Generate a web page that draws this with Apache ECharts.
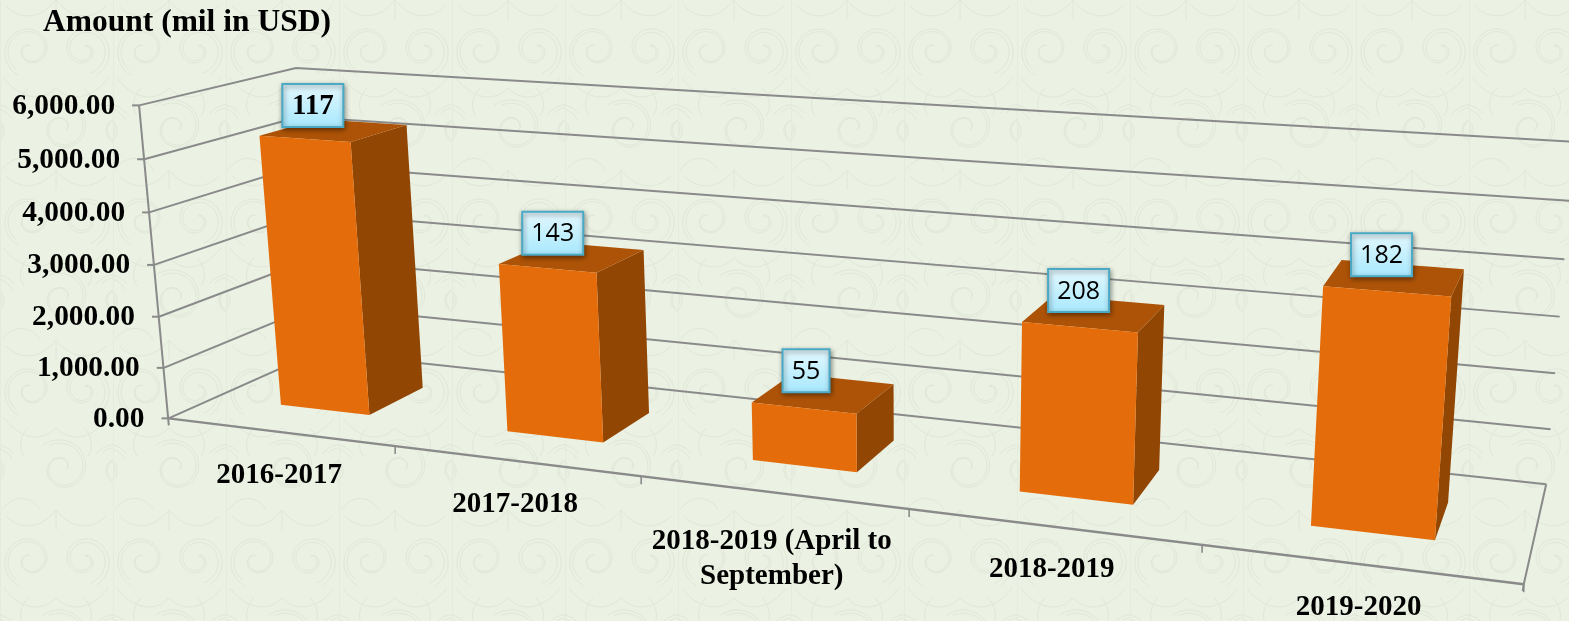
<!DOCTYPE html>
<html><head><meta charset="utf-8">
<style>html,body{margin:0;padding:0;background:#ebf1e3}#c{width:1569px;height:621px}</style>
<script src="https://cdn.jsdelivr.net/npm/echarts@6/dist/echarts.min.js"></script>
</head><body><div id="c"></div>
<script>
const categories=['2016-2017','2017-2018','2018-2019 (April to\nSeptember)','2018-2019','2019-2020'];
const amounts=[5280,3205,1080,3010,4050];
const barLabels=['117','143','55','208','182'];
const yTicks=[0,1000,2000,3000,4000,5000,6000];
const yTickLabels=['0.00','1,000.00','2,000.00','3,000.00','4,000.00','5,000.00','6,000.00'];
const titleText='Amount (mil in USD)';

const GRID={left:100,top:100,width:1000,height:300};
const BAR_Z=[0.30,0.69], BAR_W=0.40;
// Perspective calibration of the plot box: [slotFraction, heightFraction, depth, screenX, screenY]
const CAL=[[0,0,0,167,418],[1,0,0,1524,583],[0,1,0,141,105],[0,0,1,319,352],[1,0,1,1546,484],[0,1,1,294,68],[1,1,1,1574,142],
 [.2,0,0,395,446],[.4,0,0,641,477],[.6,0,0,909,510],[.8,0,0,1202,545]];
function solve(){
  const A=[],B=[];
  CAL.forEach(([X,Y,Z,u,v])=>{
    u/=1000;v/=1000;
    A.push([X,Y,Z,1,0,0,0,0,-u*X,-u*Y,-u*Z]);B.push(u);
    A.push([0,0,0,0,X,Y,Z,1,-v*X,-v*Y,-v*Z]);B.push(v);
  });
  const n=11,M=[];
  for(let i=0;i<n;i++){M.push([]);for(let j=0;j<=n;j++){let s=0;for(let r=0;r<A.length;r++)s+=A[r][i]*(j<n?A[r][j]:B[r]);M[i].push(s);}}
  for(let i=0;i<n;i++){let p=i;for(let r=i+1;r<n;r++)if(Math.abs(M[r][i])>Math.abs(M[p][i]))p=r;[M[i],M[p]]=[M[p],M[i]];
    for(let r=0;r<n;r++)if(r!==i){const f=M[r][i]/M[i][i];for(let c=i;c<=n;c++)M[r][c]-=f*M[i][c];}}
  return M.map((row,i)=>row[n]/row[i]);
}
const H=solve();
function project(X,Y,Z){const w=H[8]*X+H[9]*Y+H[10]*Z+1;
  return [1000*(H[0]*X+H[1]*Y+H[2]*Z+H[3])/w,1000*(H[4]*X+H[5]*Y+H[6]*Z+H[7])/w];}
function mapper(api){
  const band=api.size([1,0])[0];
  return (slot,val,z)=>{const c=api.coord([0,val]);const px=c[0]-band/2+slot*band;
    return project((px-GRID.left)/GRID.width,(GRID.top+GRID.height-c[1])/GRID.height,z);};
}
const N=categories.length,LINE='#8a8a8a';
const line=(pts,w,color)=>({type:'polyline',shape:{points:pts},style:{stroke:color||LINE,lineWidth:w||2,fill:null}});

function renderGrid(params,api){
  const P=mapper(api),v=api.value(1);
  return {type:'group',children:[
    line([P(0,v,0),P(0,v,1),P(N,v,1)]),
    line([P(0,v,0),[P(0,v,0)[0]-7,P(0,v,0)[1]]])
  ]};
}
function renderFrame(params,api){
  const P=mapper(api);const top=yTicks[yTicks.length-1];
  const a=P(0,0,0),b=P(N,0,0);
  return {type:'group',children:[
    line([P(0,top,0),[a[0]+0.3,a[1]+7]]),
    line([a,b],2.4),
    line([P(N,0,1),b,[b[0]-1,b[1]+7]])
  ]};
}
function renderXTick(params,api){
  const P=mapper(api),i=api.value(0)+1,p=P(i,0,0);
  return line([p,[p[0],p[1]+8]],1.6);
}
function renderBar(params,api){
  const P=mapper(api),i=api.value(0),v=api.value(1);
  const l=i+.5-BAR_W/2,r=i+.5+BAR_W/2,[z0,z1]=BAR_Z;
  const poly=(pts,c)=>({type:'polygon',shape:{points:pts},style:{fill:c}});
  return {type:'group',children:[
    poly([P(r,0,z0),P(r,0,z1),P(r,v,z1),P(r,v,z0)],'#924604'),
    poly([P(l,v,z0),P(l,v,z1),P(r,v,z1),P(r,v,z0)],'#ad5307'),
    poly([P(l,0,z0),P(r,0,z0),P(r,v,z0),P(l,v,z0)],'#e46c0a')
  ]};
}
function renderBarLabel(params,api){
  const P=mapper(api),i=api.value(0),v=api.value(1);
  const p=P(i+.5,v,0.42);
  const txt=barLabels[i],cx=p[0]-10,cy=p[1]-28;
  const w=txt.length===3?61:47,h=43;
  const first=i===0;
  return {type:'group',children:[
    {type:'rect',shape:{x:cx-w/2,y:cy-h/2,width:w,height:h},style:{
      fill:new echarts.graphic.LinearGradient(0,0,0,1,[{offset:0,color:'#e5f8fe'},{offset:1,color:'#a6e8fd'}]),
      stroke:'#4aaac6',lineWidth:2,shadowBlur:5,shadowOffsetX:1,shadowOffsetY:2,shadowColor:'rgba(0,0,0,.45)'}},
    {type:'text',x:cx,y:cy+1,style:{text:txt,align:'center',verticalAlign:'middle',fill:'#000',
      font:first?'bold 29px "Liberation Serif"':'25px "Open Sans"'}}
  ]};
}
function renderYLabel(params,api){
  const P=mapper(api),p=P(0,api.value(1),0);
  return {type:'text',x:p[0]-24,y:p[1]+1,style:{text:yTickLabels[params.dataIndex],align:'right',verticalAlign:'middle',fill:'#000',font:'bold 29.4px "Liberation Serif"'}};
}
function renderXLabel(params,api){
  const P=mapper(api),i=api.value(0),p=P(i+.5,0,0);
  const twoLines=categories[i].indexOf('\n')>=0;
  return {type:'text',x:p[0]-0.5,y:p[1]+(twoLines?32:26),style:{text:categories[i],align:'center',verticalAlign:'top',lineHeight:35,fill:'#000',font:'bold 29px "Liberation Serif"'}};
}

function tile(){
  const c=document.createElement('canvas');c.width=113;c.height=170;
  const g=c.getContext('2d');g.fillStyle='#ebf1e3';g.fillRect(0,0,113,170);
  g.strokeStyle='#e2e8d8';g.lineWidth=1;
  const spiral=(x,y,r,dir,start)=>{g.beginPath();for(let t=0;t<=1;t+=.02){const a=start+dir*t*9,R=r*(1-t*.85);const px=x+R*Math.cos(a),py=y+R*Math.sin(a);t?g.lineTo(px,py):g.moveTo(px,py);}g.stroke();};
  [[30,50,28,1,2],[84,50,28,-1,1.1],[62,128,30,1,4],[-8,128,26,-1,-.6],[118,128,26,1,3.7]].forEach(s=>{
    spiral(s[0],s[1],s[2],s[3],s[4]);spiral(s[0],s[1],s[2]-4,s[3],s[4]+.2);});
  g.beginPath();
  g.moveTo(56,0);g.bezierCurveTo(40,20,20,20,6,6);g.moveTo(56,0);g.bezierCurveTo(72,20,92,20,106,6);
  g.moveTo(56,88);g.bezierCurveTo(36,108,12,90,4,78);g.moveTo(56,88);g.bezierCurveTo(76,108,100,90,108,78);
  g.moveTo(2,170);g.bezierCurveTo(16,150,36,160,40,170);g.moveTo(56,0);g.lineTo(56,20);
  g.moveTo(0,0);g.lineTo(0,170);
  g.moveTo(28,88);g.bezierCurveTo(20,96,18,108,24,116);g.moveTo(84,88);g.bezierCurveTo(92,96,94,108,88,116);
  g.stroke();
  return c;
}
const catRows=categories.map((_,i)=>[i,0]);
const tickRows=yTicks.map(v=>[0,v]);
const custom=(renderItem,data)=>({type:'custom',renderItem,data,silent:true,animation:false,clip:false});
echarts.init(document.getElementById('c'),null,{renderer:'canvas'}).setOption({
  animation:false,
  backgroundColor:{image:tile(),repeat:'repeat'},
  title:{text:titleText,left:38,top:2,textStyle:{fontFamily:'Liberation Serif',fontWeight:'bold',fontSize:31.5,color:'#000'}},
  grid:GRID,
  xAxis:{type:'category',data:categories,show:false},
  yAxis:{type:'value',min:0,max:6000,interval:1000,show:false},
  series:[
    custom(renderGrid,tickRows),
    custom(renderFrame,[[0,0]]),
    custom(renderXTick,catRows),
    custom(renderBar,amounts.map((v,i)=>[i,v])),
    custom(renderBarLabel,amounts.map((v,i)=>[i,v])),
    custom(renderYLabel,tickRows),
    custom(renderXLabel,catRows)
  ]
});
</script></body></html>
